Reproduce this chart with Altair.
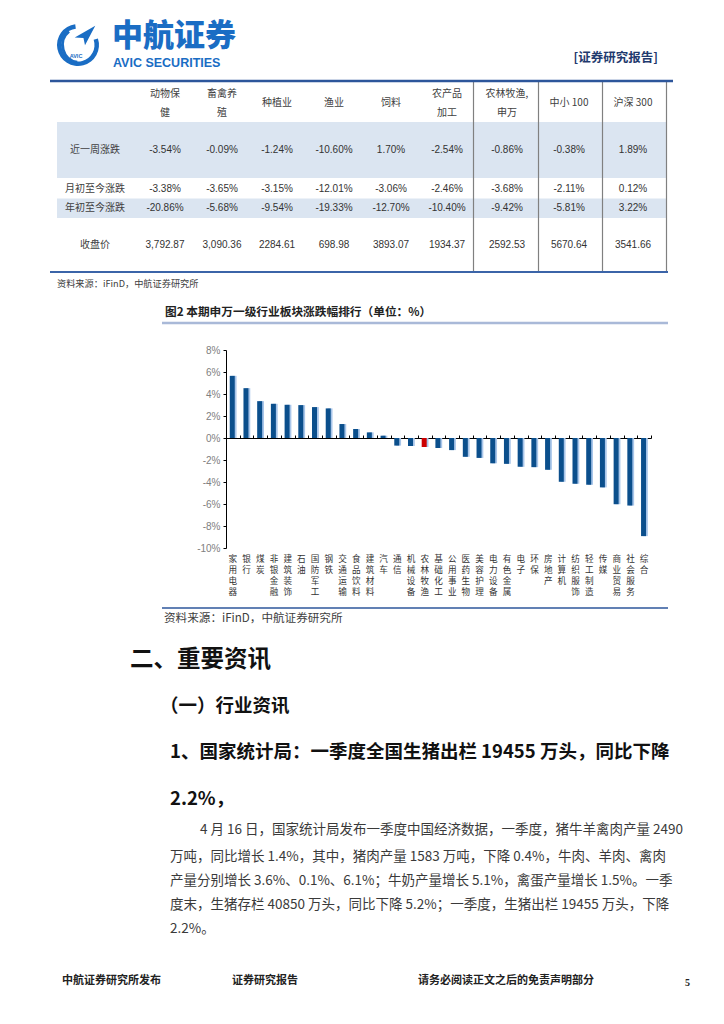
import altair as alt
import pandas as pd

# ---------------- data ----------------
industries = ["家用电器", "银行", "煤炭", "非银金融", "建筑装饰", "石油", "国防军工", "钢铁",
              "交通运输", "食品饮料", "建筑材料", "汽车", "通信", "机械设备", "农林牧渔",
              "基础化工", "公用事业", "医药生物", "美容护理", "电力设备", "有色金属", "电子",
              "环保", "房地产", "计算机", "纺织服饰", "轻工制造", "传媒", "商业贸易",
              "社会服务", "综合"]
changes = [5.65, 4.53, 3.35, 3.11, 3.02, 2.99, 2.81, 2.69, 1.27, 0.82, 0.51, 0.21,
           -0.69, -0.73, -0.82, -0.91, -1.10, -1.71, -1.81, -2.30, -2.35, -2.62,
           -2.65, -2.89, -3.98, -4.16, -4.25, -4.49, -6.02, -6.14, -8.92]
highlight = "农林牧渔"
y_ticks = [-10, -8, -6, -4, -2, 0, 2, 4, 6, 8]

table_headers = ["动物保\n健", "畜禽养\n殖", "种植业", "渔业", "饲料", "农产品\n加工",
                 "农林牧渔,\n申万", "中小 100", "沪深 300"]
table_rows = ["近一周涨跌", "月初至今涨跌", "年初至今涨跌", "收盘价"]
week = ["-3.54%", "-0.09%", "-1.24%", "-10.60%", "1.70%", "-2.54%", "-0.86%", "-0.38%", "1.89%"]
month = ["-3.38%", "-3.65%", "-3.15%", "-12.01%", "-3.06%", "-2.46%", "-3.68%", "-2.11%", "0.12%"]
ytd = ["-20.86%", "-5.68%", "-9.54%", "-19.33%", "-12.70%", "-10.40%", "-9.42%", "-5.81%", "3.22%"]
close = ["3,792.87", "3,090.36", "2284.61", "698.98", "3893.07", "1934.37", "2592.53", "5670.64", "3541.66"]

source_text = "资料来源：iFinD，中航证券研究所"
fig_title = "图2  本期申万一级行业板块涨跌幅排行（单位：%）"
h1 = "二、重要资讯"
h2 = "（一）行业资讯"
h3a = "1、国家统计局：一季度全国生猪出栏 19455 万头，同比下降"
h3b = "2.2%，"
body = ["4 月 16 日，国家统计局发布一季度中国经济数据，一季度，猪牛羊禽肉产量 2490",
        "万吨，同比增长 1.4%，其中，猪肉产量 1583 万吨，下降 0.4%，牛肉、羊肉、禽肉",
        "产量分别增长 3.6%、0.1%、6.1%；牛奶产量增长 5.1%，禽蛋产量增长 1.5%。一季",
        "度末，生猪存栏 40850 万头，同比下降 5.2%；一季度，生猪出栏 19455 万头，下降",
        "2.2%。"]
footer = ["中航证券研究所发布", "证券研究报告", "请务必阅读正文之后的免责声明部分"]
page_no = "5"

# ---------------- layout helpers ----------------
CJK = "Noto Sans CJK SC"
LAT = "Liberation Sans"
W, H = 708, 1008
M = 8  # page margin
dummy = pd.DataFrame({"a": [0]})
IDX = alt.Scale(domain=[0, W], range=[0, W], zero=False, nice=False)
IDY = alt.Scale(domain=[0, H], range=[0, H], zero=False, nice=False)


def P(v):
    return v - M


def txt(s, x, y, size, weight="normal", color="#333333", align="left",
        font=CJK, baseline="middle"):
    return alt.Chart(dummy).mark_text(
        text=s, align=align, baseline=baseline, fontSize=size,
        fontWeight=weight, color=color, font=font
    ).encode(x=alt.value(P(x)), y=alt.value(P(y)))


def hline(x1, x2, y, color, w):
    return alt.Chart(dummy).mark_rule(color=color, strokeWidth=w).encode(
        x=alt.value(P(x1)), x2=alt.value(P(x2)), y=alt.value(P(y)))


def vline(x, y1, y2, color, w):
    return alt.Chart(dummy).mark_rule(color=color, strokeWidth=w).encode(
        x=alt.value(P(x)), y=alt.value(P(y1)), y2=alt.value(P(y2)))


def rect(x1, x2, y1, y2, color):
    return alt.Chart(dummy).mark_rect(color=color).encode(
        x=alt.value(P(x1)), x2=alt.value(P(x2)), y=alt.value(P(y1)), y2=alt.value(P(y2)))


layers = []
BLUE_LOGO = "#1a6dc4"

# ---------------- header ----------------
layers.append(alt.Chart(dummy).mark_arc(
    x=P(78), y=P(45), radius=21, radius2=16.5, theta=1.25, theta2=6.15
).encode(color=alt.value(BLUE_LOGO)))
layers.append(alt.Chart(dummy).mark_arc(
    x=P(80), y=P(45), radius=19, radius2=16, theta=3.3, theta2=5.6
).encode(color=alt.value(BLUE_LOGO)))
layers.append(alt.Chart(dummy).mark_point(
    shape="M -1 0.15 L 1 -1 L 0 0.9 L -0.15 0.2 Z", filled=True, size=420, opacity=1
).encode(x=alt.value(P(85)), y=alt.value(P(36)), color=alt.value(BLUE_LOGO)))
layers.append(txt("AVIC", 76, 56, 5.5, "bold", BLUE_LOGO, "center", LAT))
layers.append(txt("中航证券", 112, 36.5, 31, 900, BLUE_LOGO, "left", CJK))
layers.append(txt("AVIC  SECURITIES", 113, 63, 12.5, "bold", BLUE_LOGO, "left", LAT))
layers.append(txt("[证券研究报告]", 658, 58, 12.5, "bold", "#1f3a6e", "right", CJK))

# ---------------- table ----------------
col_x = [165, 222, 277, 334, 391, 447, 507, 569, 633]
row_y = [150, 189, 208, 245]
label_x = 95
layers.append(rect(57, 667, 122, 178, "#dbe5f1"))
layers.append(rect(57, 667, 198.5, 218, "#dbe5f1"))
for vx in [473.5, 538.5, 602.5, 666.5]:
    layers.append(vline(vx, 82, 272, "#808080", 1.2))
layers.append(hline(50, 673, 81, "#2d569b", 2.5))
layers.append(hline(50, 668, 272, "#3b64a8", 2))

head_recs = []
for cx, h in zip(col_x, table_headers):
    parts = h.split("\n")
    ys = [103] if len(parts) == 1 else [93.5, 113]
    for yy, part in zip(ys, parts):
        head_recs.append({"cx": P(cx), "cy": P(yy), "t": part})
for ry, rname in zip(row_y, table_rows):
    head_recs.append({"cx": P(label_x), "cy": P(ry), "t": rname})
layers.append(alt.Chart(pd.DataFrame(head_recs)).mark_text(
    font=CJK, fontSize=10, color="#404040", baseline="middle", align="center"
).encode(x=alt.X("cx:Q", scale=IDX, axis=None), y=alt.Y("cy:Q", scale=IDY, axis=None),
         text="t:N"))

val_recs = []
for ry, vals in zip(row_y, [week, month, ytd, close]):
    for cx, v in zip(col_x, vals):
        val_recs.append({"cx": P(cx), "cy": P(ry), "t": v})
layers.append(alt.Chart(pd.DataFrame(val_recs)).mark_text(
    font=LAT, fontSize=10, color="#333333", baseline="middle", align="center"
).encode(x=alt.X("cx:Q", scale=IDX, axis=None), y=alt.Y("cy:Q", scale=IDY, axis=None),
         text="t:N"))

layers.append(txt(source_text, 57, 284, 9.2, "normal", "#404040"))

# ---------------- figure caption ----------------
layers.append(txt(fig_title, 165, 312, 11.7, "bold", "#222222"))
layers.append(hline(162, 668, 323, "#a9b9d8", 2.5))

# ---------------- bar chart ----------------
bars_df = pd.DataFrame({"ind": industries, "v": changes})
char_recs = []
for ind in industries:
    for k, ch in enumerate(ind):
        char_recs.append({"ind": ind, "ch": ch, "cy": P(558.5) + k * 11.3})
chars_df = pd.DataFrame(char_recs)

xs = alt.Scale(domain=industries, range=[P(226), P(651)], paddingInner=0, paddingOuter=0)
ys = alt.Scale(domain=[-10, 8], range=[P(548), P(350)], zero=False, nice=False)
zero_px = P(350) + (P(548) - P(350)) * 8 / 18

xenc_axis = alt.X("ind:N", sort=industries, scale=xs, title=None,
                  axis=alt.Axis(orient="top", offset=-zero_px, labels=False, ticks=True,
                                tickSize=3, tickBand="extent", domain=True,
                                domainColor="#000000", tickColor="#000000",
                                domainWidth=1, grid=False))
xenc_none = alt.X("ind:N", sort=industries, scale=xs, axis=None)
yenc = alt.Y("v:Q", scale=ys, title=None,
             axis=alt.Axis(values=y_ticks, labelExpr="datum.value + '%'",
                           offset=-P(226), tickSize=3, domainColor="#000000",
                           tickColor="#000000", labelColor="#808080", labelFont=LAT,
                           labelFontSize=10, labelPadding=3, grid=False))

shadow = alt.Chart(bars_df).mark_bar(size=5, xOffset=1.2, color="#a9c6ea").encode(
    x=xenc_none, y=alt.Y("v:Q", scale=ys, axis=None), y2=alt.datum(0))
main = alt.Chart(bars_df).mark_bar(size=5, xOffset=-0.6).encode(
    x=xenc_axis, y=yenc, y2=alt.datum(0),
    color=alt.condition(alt.datum.ind == highlight, alt.value("#cc0000"), alt.value("#0b4f8c")))
xlabels = alt.Chart(chars_df).mark_text(
    baseline="middle", align="center", fontSize=8.6, font=CJK, color="#333333"
).encode(x=xenc_none, y=alt.Y("cy:Q", scale=IDY, axis=None), text="ch:N")
bar_layer = alt.layer(
    alt.layer(shadow, main).resolve_axis(x="independent", y="independent"),
    xlabels
).resolve_scale(y="independent").resolve_axis(x="independent", y="independent")
layers.append(bar_layer)

layers.append(hline(162, 668, 608, "#2d569b", 1.5))
layers.append(txt(source_text, 164, 619, 11.6, "normal", "#404040"))

# ---------------- text sections ----------------
layers.append(txt(h1, 130, 660, 23.5, "bold", "#111111"))
layers.append(txt(h2, 160, 706, 18.5, "bold", "#111111"))
layers.append(txt(h3a, 170, 752, 18.5, "bold", "#111111"))
layers.append(txt(h3b, 170, 799, 18.5, "bold", "#111111"))
body_pos = [(200, 830), (170, 857), (170, 881), (170, 905), (170, 929)]
for (bx, by), line in zip(body_pos, body):
    layers.append(txt(line, bx, by, 13.5, "normal", "#3a3a3a"))

# ---------------- footer ----------------
layers.append(txt(footer[0], 62, 981, 11, "bold", "#222222"))
layers.append(txt(footer[1], 232, 981, 11, "bold", "#222222"))
layers.append(txt(footer[2], 418, 981, 11, "bold", "#222222"))
layers.append(txt(page_no, 685, 983, 10, "bold", "#222222", "left", "Liberation Serif"))

chart = alt.layer(*layers).resolve_scale(
    x="independent", y="independent", color="independent"
).resolve_axis(x="independent", y="independent").properties(
    width=W, height=H, padding=0
).configure_view(stroke=None)

chart.save("out.html", embed_options={"renderer": "svg", "actions": False})
